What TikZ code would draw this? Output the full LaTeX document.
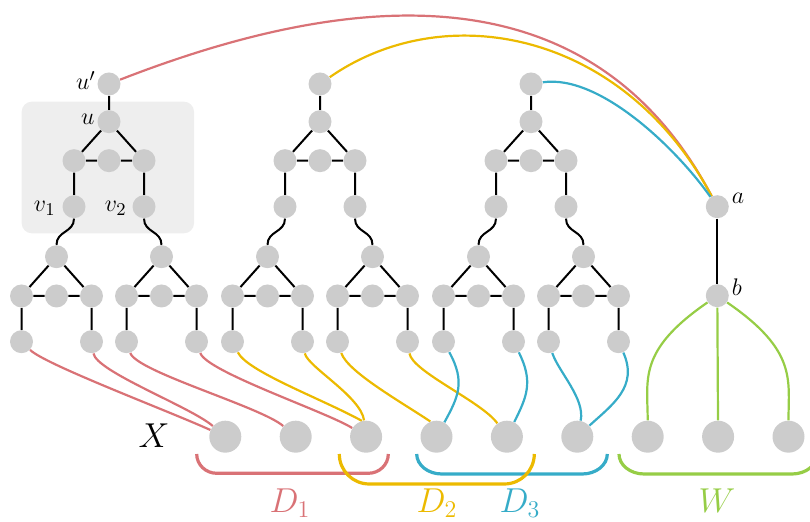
\documentclass[tikz,border=0pt]{standalone}
\usetikzlibrary{backgrounds}
\definecolor{cRed}{RGB}{217,114,118}
\definecolor{cYellow}{RGB}{236,186,0}
\definecolor{cBlue}{RGB}{54,172,200}
\definecolor{cGreen}{RGB}{150,205,70}
\definecolor{vgray}{RGB}{204,204,204}
\definecolor{boxgray}{RGB}{238,238,238}
\pgfdeclarelayer{back}
\pgfdeclarelayer{lines}
\pgfsetlayers{back,lines,main}

% lower part of a gadget: a triangle with a middle vertex and two pendant leaves
\newcommand\subgadget[2]{%
  \node[vtx] (#1t)  at ({#2},256.7) {};
  \node[vtx] (#1l)  at ({#2-35},296) {};
  \node[vtx] (#1m)  at ({#2},296) {};
  \node[vtx] (#1r)  at ({#2+35},296) {};
  \node[vtx] (#1bl) at ({#2-35},341.7) {};
  \node[vtx] (#1br) at ({#2+35},341.7) {};
  \begin{pgfonlayer}{lines}
    \draw[blackline] (#1l) -- (#1t) -- (#1r) (#1l) -- (#1m) -- (#1r)
      (#1l) -- (#1bl) (#1r) -- (#1br);
  \end{pgfonlayer}
}
% full gadget with its top vertex at x = #2
\newcommand\gadget[2]{%
  \node[vtx] (#1top) at ({#2},84) {};
  \node[vtx] (#1u)   at ({#2},121.7) {};
  \node[vtx] (#1l)   at ({#2-35},160.7) {};
  \node[vtx] (#1m)   at ({#2},160.7) {};
  \node[vtx] (#1r)   at ({#2+35},160.7) {};
  \node[vtx] (#1vl)  at ({#2-35},206.7) {};
  \node[vtx] (#1vr)  at ({#2+35},206.7) {};
  \subgadget{#1L}{#2-52.5}
  \subgadget{#1R}{#2+52.5}
  \begin{pgfonlayer}{lines}
    \draw[blackline] (#1top) -- (#1u) (#1l) -- (#1u) -- (#1r)
      (#1l) -- (#1m) -- (#1r) (#1l) -- (#1vl) (#1r) -- (#1vr);
    \draw[blackline] (#1vl) .. controls +(0,26) and +(0,-26) .. (#1Lt);
    \draw[blackline] (#1vr) .. controls +(0,26) and +(0,-26) .. (#1Rt);
  \end{pgfonlayer}
}

\begin{document}
\begin{tikzpicture}[x=0.5pt,y=-0.5pt,
  vtx/.style={circle,fill=vgray,draw=none,minimum size=11.5pt,inner sep=0pt},
  bigvtx/.style={circle,fill=vgray,draw=none,minimum size=16pt,inner sep=0pt},
  blackline/.style={line width=1pt,black},
  wire/.style={line width=1.1pt},
  bracket/.style={line width=1.6pt},
  lbl/.style={inner sep=0pt,font=\fontsize{12.8}{15}\selectfont},
  biglbl/.style={inner sep=0pt,anchor=base,font=\fontsize{17.6}{20}\selectfont}]
\useasboundingbox (0,0) rectangle (810,522);

% shaded region around the first gadget
\begin{pgfonlayer}{back}
  \fill[boxgray,rounded corners=5pt] (21.7,101.7) rectangle (194,233.3);
\end{pgfonlayer}

\gadget{A}{109}
\gadget{B}{320}
\gadget{C}{531}

% vertices a and b
\node[vtx] (a) at (717.3,206.7) {};
\node[vtx] (b) at (717.3,295.7) {};

% bottom row
\foreach \i [count=\k from 0] in {1,...,9}
  \node[bigvtx] (X\i) at ({225.3+70.4*\k},436.7) {};

% labels
\node[lbl,anchor=base east] (lup) at (96,90) {$u'$};
\node[lbl,anchor=base east] (lu)  at (95,125) {$u$};
\node[lbl,anchor=base east] (lv1) at (56,211.7) {$v_1$};
\node[lbl,anchor=base east] (lv2) at (127,211.7) {$v_2$};
\node[lbl,anchor=base west] (la)  at (731.5,204) {$a$};
\node[lbl,anchor=base west] (lb)  at (731.5,296) {$b$};
\node[biglbl] (lX) at (154,447.3) {$X$};
\node[biglbl,text=cRed]    (lD1) at (290,512.5) {$D_1$};
\node[biglbl,text=cYellow] (lD2) at (437,512.5) {$D_2$};
\node[biglbl,text=cBlue]   (lD3) at (520,512.5) {$D_3$};
\node[biglbl,text=cGreen]  (lW)  at (717,512.5) {$W$};

\begin{pgfonlayer}{lines}
  \draw[blackline] (a) -- (b);

  % long arcs into a
  \draw[wire,cRed]    (Atop) .. controls +(272,-106) and +(-118,-223) .. (a);
  \draw[wire,cYellow] (Btop) .. controls +(125,-87) and +(-94,-176) .. (a);
  \draw[wire,cBlue]   (Ctop) .. controls +(69,-10) and +(-40,-57) .. (a);

  % leaves of the first gadget
  \draw[wire,cRed] (ALbl) .. controls +(24,23) and +(-60,-27) .. (X1);
  \draw[wire,cRed] (ALbr) .. controls +(5,30) and +(-35,-30) .. (X1);
  \draw[wire,cRed] (ARbl) .. controls +(10,30) and +(-35,-30) .. (X2);
  \draw[wire,cRed] (ARbr) .. controls +(10,30) and +(-40,-25) .. (X3);

  % leaves of the second gadget
  \draw[wire,cYellow] (BLbl) .. controls +(15,30) and +(-40,-22) .. (X3.105);
  \draw[wire,cYellow] (BLbr) .. controls +(5,25) and +(-5,-40) .. (X3);
  \draw[wire,cYellow] (BRbl) .. controls +(10,30) and +(-30,-20) .. (X4.112);
  \draw[wire,cYellow] (BRbr) .. controls +(5,30) and +(-25,-35) .. (X5);

  % leaves of the third gadget
  \draw[wire,cBlue] (CLbl) .. controls +(22,40) and +(22,-40) .. (X4);
  \draw[wire,cBlue] (CLbr) .. controls +(20,40) and +(20,-40) .. (X5);
  \draw[wire,cBlue] (CRbl) .. controls +(10,30) and +(8,-38) .. (X6);
  \draw[wire,cBlue] (CRbr) .. controls +(20,45) and +(35,-32) .. (X6);

  % b to W
  \draw[wire,cGreen] (b) .. controls +(-80,55) and +(0,-57) .. (X7);
  \draw[wire,cGreen] (b) -- (X8);
  \draw[wire,cGreen] (b) .. controls +(80,55) and +(0,-57) .. (X9);
\end{pgfonlayer}

% brackets under the bottom row
\draw[bracket,cRed] (196.7,454) .. controls (196.7,464.7) and (205.7,473.3) .. (216.7,473.3)
  -- (368.3,473.3) .. controls (379.3,473.3) and (388.3,464.7) .. (388.3,454);
\draw[bracket,cBlue] (416.7,454) .. controls (416.7,465) and (427.9,474) .. (441.7,474)
  -- (582.3,474) .. controls (596.1,474) and (607.3,465) .. (607.3,454);
\draw[bracket,cYellow] (339.3,454) .. controls (339.3,470.6) and (352.7,484) .. (369.3,484)
  -- (504.3,484) .. controls (520.9,484) and (534.3,470.6) .. (534.3,454);
\draw[bracket,cGreen] (619,454) .. controls (619,465) and (630.2,474) .. (644,474)
  -- (792.2,474) .. controls (806,474) and (817.2,465) .. (817.2,454);
\end{tikzpicture}
\end{document}
